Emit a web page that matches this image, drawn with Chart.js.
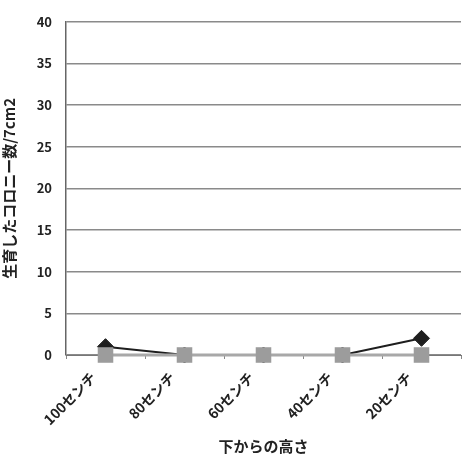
<!DOCTYPE html>
<html>
<head>
<meta charset="utf-8">
<script src="https://cdn.jsdelivr.net/npm/chart.js@4.4.0/dist/chart.umd.min.js"></script>
<style>
  html, body { margin: 0; padding: 0; background: #fff; overflow: hidden; }
  #wrap { width: 463px; height: 461px; overflow: hidden; position: relative; }
  #box { width: 472px; height: 461px; position: absolute; left: 0; top: 0; }
</style>
</head>
<body>
<div id="wrap"><div id="box"><canvas id="c"></canvas></div></div>
<script>
// Colony counts by height from the bottom
const heights = ['100センチ', '80センチ', '60センチ', '40センチ', '20センチ'];
const seriesA = [1, 0, 0, 0, 2];   // diamonds
const seriesB = [0, 0, 0, 0, 0];   // squares
const yTicks = [0, 5, 10, 15, 20, 25, 30, 35, 40];

const jp = '"Noto Sans CJK JP", "DejaVu Sans", sans-serif';

new Chart(document.getElementById('c'), {
  type: 'line',
  data: {
    labels: heights,
    datasets: [
      {
        data: seriesA,
        borderColor: '#1e1e1e',
        backgroundColor: '#1e1e1e',
        borderWidth: 2,
        pointStyle: 'rectRot',
        pointRadius: 8,
        pointBorderWidth: 1,
        tension: 0,
        clip: false,
        order: 2
      },
      {
        data: seriesB,
        borderColor: '#a8a8a8',
        backgroundColor: '#9c9c9c',
        borderWidth: 3,
        pointStyle: 'rect',
        pointRadius: 11,
        pointBorderWidth: 0,
        tension: 0,
        clip: false,
        order: 1
      }
    ]
  },
  options: {
    responsive: true,
    maintainAspectRatio: false,
    animation: false,
    layout: { padding: { top: 14, right: 1, left: 0, bottom: 0 } },
    plugins: { legend: { display: false }, tooltip: { enabled: false } },
    scales: {
      x: {
        offset: true,
        grid: {
          offset: true,
          drawOnChartArea: false,
          drawTicks: true,
          tickLength: 4,
          color: '#888'
        },
        border: { color: '#777', width: 1 },
        ticks: {
          minRotation: 45,
          maxRotation: 45,
          padding: 10,
          labelOffset: -12,
          color: '#222',
          font: { family: jp, size: 14, weight: 'bold' }
        },
        title: {
          display: true,
          text: '下からの高さ',
          color: '#222',
          padding: { top: 6, bottom: 6 },
          font: { family: jp, size: 15, weight: 'bold' }
        },
        afterFit: (s) => { s.height = 106; }
      },
      y: {
        min: 0,
        max: 40,
        afterBuildTicks: (s) => { s.ticks = yTicks.map(v => ({ value: v })); },
        grid: {
          color: '#8a8a8a',
          lineWidth: 1.5,
          drawTicks: false
        },
        border: { color: '#666', width: 1.5 },
        ticks: {
          padding: 14,
          color: '#222',
          font: { family: jp, size: 13, weight: 'bold' }
        },
        title: {
          display: true,
          text: '生育したコロニー数/7cm2',
          color: '#222',
          padding: { top: 0, bottom: 4 },
          font: { family: jp, size: 15, weight: 'bold' }
        },
        afterFit: (s) => { s.width = 66; }
      }
    }
  }
});
</script>
</body>
</html>
